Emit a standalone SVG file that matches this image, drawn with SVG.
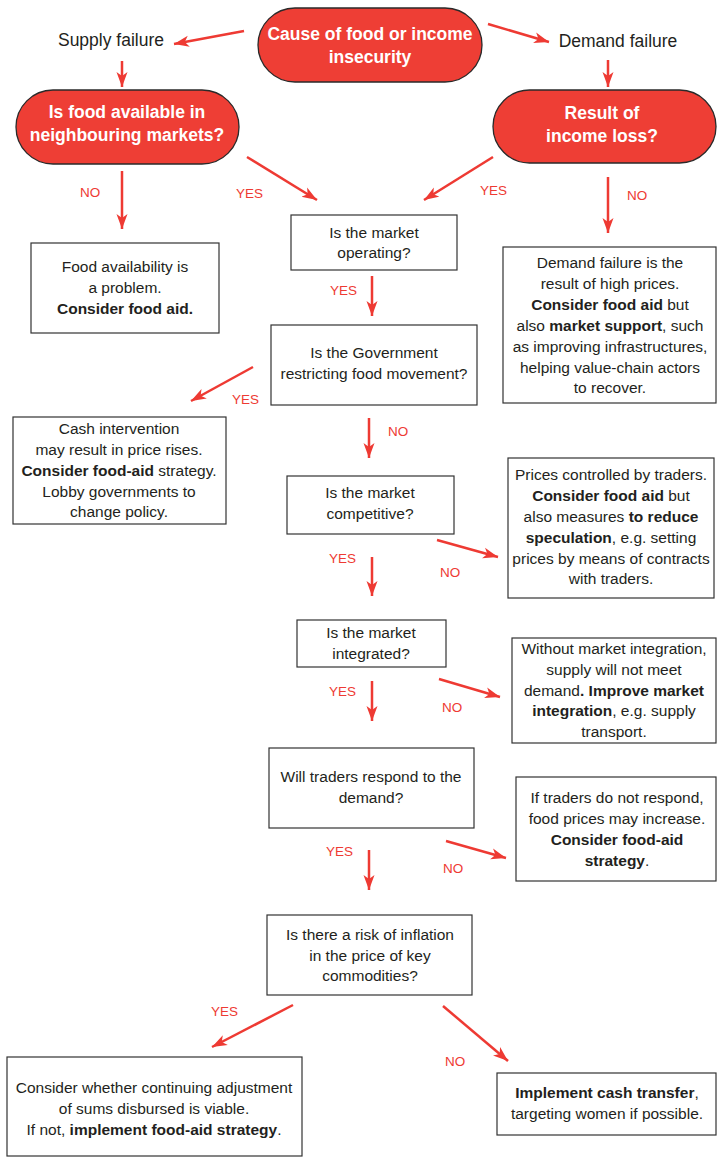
<svg xmlns="http://www.w3.org/2000/svg" width="717" height="1157" viewBox="0 0 717 1157">
<defs>
<marker id="ah" markerUnits="userSpaceOnUse" markerWidth="16" markerHeight="12" refX="15" refY="6" orient="auto">
<path d="M0,0.5 L15,6 L0,11.5 L4,6 Z" fill="#ee3a33"/>
</marker>
<style>
text{font-family:"Liberation Sans",Arial,sans-serif;fill:#231f20;}
.t{font-size:15.5px;text-anchor:middle;}
.p{font-size:17.5px;font-weight:bold;fill:#fff;text-anchor:middle;}
.h{font-size:17.5px;text-anchor:middle;}
.l{font-size:13.5px;fill:#ee3a33;}
.b{font-weight:bold;}
.box{fill:#fff;stroke:#333;stroke-width:1.2;}
.pill{fill:#ee3e35;stroke:#2a2a2a;stroke-width:1.3;}
.c line{stroke:#ee3a33;stroke-width:2.5;marker-end:url(#ah);}
</style>
</defs>
<rect width="717" height="1157" fill="#fff"/>

<g id="n-cause">
<rect class="pill" x="258" y="8" width="224" height="74" rx="37"/>
<text class="p" x="370" y="40">Cause of food or income</text>
<text class="p" x="370" y="63">insecurity</text>
</g>
<g id="n-supply"><text class="h" x="111" y="46">Supply failure</text></g>
<g id="n-demand"><text class="h" x="618" y="47">Demand failure</text></g>

<g id="n-available">
<rect class="pill" x="16" y="90" width="223" height="74" rx="37"/>
<text class="p" x="127" y="118">Is food available in</text>
<text class="p" x="127" y="141">neighbouring markets?</text>
</g>
<g id="n-incomeloss">
<rect class="pill" x="493" y="90" width="223" height="73" rx="36.5"/>
<text class="p" x="602" y="119">Result of</text>
<text class="p" x="602" y="142">income loss?</text>
</g>

<g id="n-foodavail">
<rect class="box" x="31" y="243" width="188" height="90"/>
<text class="t" x="125" y="272">Food availability is</text>
<text class="t" x="125" y="293">a problem.</text>
<text class="t b" x="125" y="314">Consider food aid.</text>
</g>

<g id="n-operating">
<rect class="box" x="291" y="215" width="166" height="55"/>
<text class="t" x="374" y="238">Is the market</text>
<text class="t" x="374" y="258">operating?</text>
</g>

<g id="n-highprices">
<rect class="box" x="503" y="247" width="213" height="156"/>
<text class="t" x="610" y="268">Demand failure is the</text>
<text class="t" x="610" y="289">result of high prices.</text>
<text class="t" x="610" y="310"><tspan class="b">Consider food aid</tspan> but</text>
<text class="t" x="610" y="331">also <tspan class="b">market support</tspan>, such</text>
<text class="t" x="610" y="352">as improving infrastructures,</text>
<text class="t" x="610" y="373">helping value-chain actors</text>
<text class="t" x="610" y="393">to recover.</text>
</g>

<g id="n-government">
<rect class="box" x="271" y="325" width="206" height="80"/>
<text class="t" x="374" y="358">Is the Government</text>
<text class="t" x="374" y="379">restricting food movement?</text>
</g>

<g id="n-cash">
<rect class="box" x="13" y="417" width="213" height="107"/>
<text class="t" x="119" y="434">Cash intervention</text>
<text class="t" x="119" y="455">may result in price rises.</text>
<text class="t" x="119" y="476"><tspan class="b">Consider food-aid</tspan> strategy.</text>
<text class="t" x="119" y="497">Lobby governments to</text>
<text class="t" x="119" y="517">change policy.</text>
</g>

<g id="n-competitive">
<rect class="box" x="287" y="476" width="167" height="58"/>
<text class="t" x="370" y="498">Is the market</text>
<text class="t" x="370" y="519">competitive?</text>
</g>

<g id="n-traders">
<rect class="box" x="508" y="458" width="206" height="140"/>
<text class="t" x="611" y="480">Prices controlled by traders.</text>
<text class="t" x="611" y="501"><tspan class="b">Consider food aid</tspan> but</text>
<text class="t" x="611" y="522">also measures <tspan class="b">to reduce</tspan></text>
<text class="t" x="611" y="543"><tspan class="b">speculation</tspan>, e.g. setting</text>
<text class="t" x="611" y="564">prices by means of contracts</text>
<text class="t" x="611" y="584">with traders.</text>
</g>

<g id="n-integrated">
<rect class="box" x="297" y="620" width="149" height="47"/>
<text class="t" x="371" y="638">Is the market</text>
<text class="t" x="371" y="659">integrated?</text>
</g>

<g id="n-integration">
<rect class="box" x="512" y="638" width="204" height="105"/>
<text class="t" x="614" y="654">Without market integration,</text>
<text class="t" x="614" y="675">supply will not meet</text>
<text class="t" x="614" y="696">demand<tspan class="b">. Improve market</tspan></text>
<text class="t" x="614" y="716"><tspan class="b">integration</tspan>, e.g. supply</text>
<text class="t" x="614" y="737">transport.</text>
</g>

<g id="n-respond">
<rect class="box" x="269" y="748" width="205" height="80"/>
<text class="t" x="371" y="782">Will traders respond to the</text>
<text class="t" x="371" y="803">demand?</text>
</g>

<g id="n-noresponse">
<rect class="box" x="516" y="777" width="200" height="104"/>
<text class="t" x="617" y="803">If traders do not respond,</text>
<text class="t" x="617" y="824">food prices may increase.</text>
<text class="t b" x="617" y="845">Consider food-aid</text>
<text class="t" x="617" y="866"><tspan class="b">strategy</tspan>.</text>
</g>

<g id="n-inflation">
<rect class="box" x="267" y="915" width="205" height="80"/>
<text class="t" x="370" y="940">Is there a risk of inflation</text>
<text class="t" x="370" y="961">in the price of key</text>
<text class="t" x="370" y="981">commodities?</text>
</g>

<g id="n-adjust">
<rect class="box" x="7" y="1057" width="295" height="99"/>
<text class="t" x="154" y="1093">Consider whether continuing adjustment</text>
<text class="t" x="154" y="1114">of sums disbursed is viable.</text>
<text class="t" x="154" y="1135">If not, <tspan class="b">implement food-aid strategy</tspan>.</text>
</g>

<g id="n-transfer">
<rect class="box" x="497" y="1073" width="219" height="62"/>
<text class="t" x="607" y="1098"><tspan class="b">Implement cash transfer</tspan>,</text>
<text class="t" x="607" y="1119">targeting women if possible.</text>
</g>

<g id="connectors" class="c">
<line x1="244" y1="31" x2="174" y2="44"/>
<line x1="488" y1="24" x2="549" y2="42"/>
<line x1="122" y1="61" x2="122" y2="87"/>
<line x1="608" y1="60" x2="608" y2="87"/>
<line x1="122" y1="171" x2="122" y2="229"/>
<line x1="247" y1="157" x2="317" y2="200"/>
<line x1="493" y1="157" x2="424" y2="200"/>
<line x1="608" y1="177" x2="608" y2="233"/>
<line x1="372" y1="276" x2="372" y2="316"/>
<line x1="253" y1="367" x2="191" y2="401"/>
<line x1="369" y1="418" x2="369" y2="458"/>
<line x1="437" y1="540" x2="498" y2="557"/>
<line x1="372" y1="557" x2="372" y2="596"/>
<line x1="439" y1="679" x2="500" y2="697"/>
<line x1="372" y1="681" x2="372" y2="721"/>
<line x1="446" y1="841" x2="506" y2="858"/>
<line x1="369" y1="850" x2="369" y2="890"/>
<line x1="293" y1="1005" x2="212" y2="1047"/>
<line x1="443" y1="1006" x2="508" y2="1061"/>
</g>

<g id="labels">
<text class="l" x="80" y="197">NO</text>
<text class="l" x="236" y="198">YES</text>
<text class="l" x="480" y="195">YES</text>
<text class="l" x="627" y="200">NO</text>
<text class="l" x="330" y="295">YES</text>
<text class="l" x="232" y="404">YES</text>
<text class="l" x="388" y="436">NO</text>
<text class="l" x="329" y="563">YES</text>
<text class="l" x="440" y="577">NO</text>
<text class="l" x="329" y="696">YES</text>
<text class="l" x="442" y="712">NO</text>
<text class="l" x="326" y="856">YES</text>
<text class="l" x="443" y="873">NO</text>
<text class="l" x="211" y="1016">YES</text>
<text class="l" x="445" y="1066">NO</text>
</g>
</svg>
